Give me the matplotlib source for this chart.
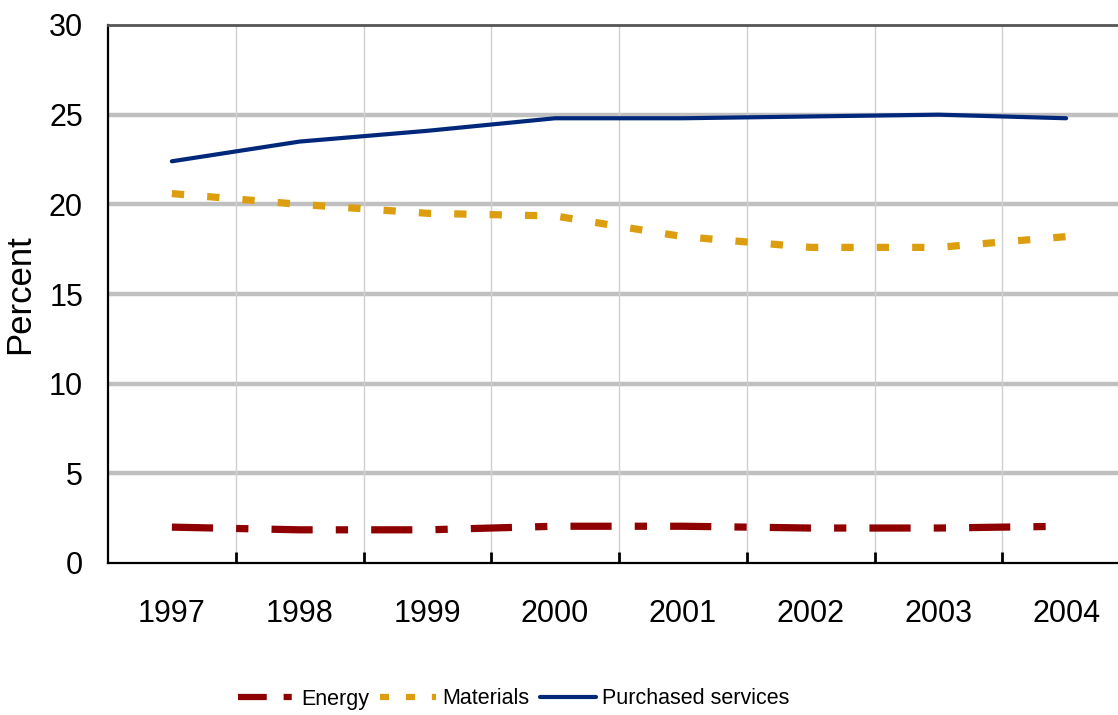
import matplotlib.pyplot as plt
import numpy as np
from matplotlib.ticker import FixedLocator

# -------------------- Data --------------------------
YEARS = ["1997", "1998", "1999", "2000", "2001", "2002", "2003", "2004"]
ENERGY = [2.0, 1.85, 1.85, 2.05, 2.05, 1.95, 1.95, 2.05]
MATERIALS = [20.6, 20.0, 19.5, 19.35, 18.2, 17.6, 17.6, 18.2]
PURCHASED = [22.4, 23.5, 24.1, 24.8, 24.8, 24.9, 25.0, 24.8]

Y_TICKS = [0, 5, 10, 15, 20, 25, 30]

FONT = ["Liberation Sans", "DejaVu Sans"]

plt.rcParams["font.family"] = FONT

fig = plt.figure(figsize=(11.18, 7.15), dpi=100)
W, H = 1118, 715
left, right, top, bottom = 108, 1130, 25, 563
ax = fig.add_axes([left / W, 1 - bottom / H, (right - left) / W, (bottom - top) / H])

x = np.arange(len(YEARS))

# gridlines
for yv in Y_TICKS[1:-1]:
    ax.axhline(yv, color="#c0c0c0", linewidth=3.2, zorder=1)
for xb in x[:-1] + 0.5:
    ax.axvline(xb, color="#d0d0d0", linewidth=1.0, zorder=1)

ax.plot(x, ENERGY, color="#8f0000", linewidth=5.2, solid_capstyle="butt",
        dash_capstyle="butt", dashes=(5.7, 3.2, 1.7, 3.2), label="Energy", zorder=3)
ax.plot(x, MATERIALS, color="#dc9e0e", linewidth=5.2, dash_capstyle="butt",
        dashes=(1.7, 3.2), label="Materials", zorder=3)
ax.plot(x, PURCHASED, color="#00287a", linewidth=3.0, solid_capstyle="round",
        label="Purchased services", zorder=4)

ax.set_xlim(-0.5, len(YEARS) - 0.5)
ax.set_ylim(0, 30)

ax.set_yticks(Y_TICKS)
ax.set_yticklabels([str(v) for v in Y_TICKS], fontsize=22)
ax.tick_params(axis="y", length=0, pad=18)

ax.set_xticks(x)
ax.set_xticklabels(YEARS, fontsize=22)
ax.xaxis.set_minor_locator(FixedLocator(x[:-1] + 0.5))
ax.tick_params(axis="x", which="major", length=0, pad=26)
ax.tick_params(axis="x", which="minor", direction="in", length=8, width=2, color="black")

ax.set_ylabel("Percent", fontsize=25, labelpad=9)

for side in ["left", "bottom"]:
    ax.spines[side].set_color("black")
    ax.spines[side].set_linewidth(1.6)
ax.spines["top"].set_color("#555555")
ax.spines["top"].set_linewidth(2.0)
ax.spines["right"].set_visible(False)

leg = fig.legend(loc="center", bbox_to_anchor=(514 / W, 1 - 699 / H), ncol=3,
                 frameon=False, handlelength=2.6, handletextpad=0.3,
                 columnspacing=0.5, prop={"size": 15.5})
leg._legend_handle_box.align = "top"
leg_lines = leg.get_lines()
leg_lines[0].set_linewidth(4.5)
leg_lines[0].set_dashes((4.6, 2.7, 1.3, 2.7))
leg_lines[1].set_linewidth(4.5)
leg_lines[1].set_dashes((1.45, 2.7))
leg_lines[2].set_linewidth(3.0)

fig.savefig("out.png", dpi=100)
